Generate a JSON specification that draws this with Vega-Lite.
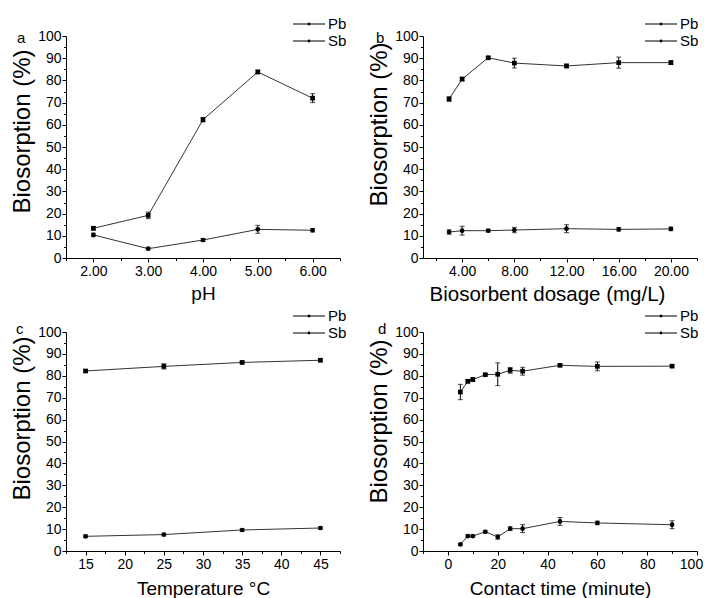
{
  "$schema": "https://vega.github.io/schema/vega-lite/v6.json",
  "background": "white",
  "padding": {"left": 10, "top": 15, "right": 0, "bottom": 0},
  "datasets": {
    "a": [
      {"series": "Pb", "x": 2, "v": 13.4, "err": 0.8},
      {"series": "Pb", "x": 3, "v": 19.2, "err": 1.5},
      {"series": "Pb", "x": 4, "v": 62.3, "err": 1.0},
      {"series": "Pb", "x": 5, "v": 83.8, "err": 0.8},
      {"series": "Pb", "x": 6, "v": 72.0, "err": 2.0},
      {"series": "Sb", "x": 2, "v": 10.4, "err": 0.8},
      {"series": "Sb", "x": 3, "v": 4.2, "err": 0.5},
      {"series": "Sb", "x": 4, "v": 8.1, "err": 0.7},
      {"series": "Sb", "x": 5, "v": 12.9, "err": 1.8},
      {"series": "Sb", "x": 6, "v": 12.5, "err": 0.8}
    ],
    "b": [
      {"series": "Pb", "x": 3, "v": 71.6, "err": 1.0},
      {"series": "Pb", "x": 4, "v": 80.6, "err": 0.8},
      {"series": "Pb", "x": 6, "v": 90.2, "err": 0.6},
      {"series": "Pb", "x": 8, "v": 87.8, "err": 2.2},
      {"series": "Pb", "x": 12, "v": 86.5, "err": 0.8},
      {"series": "Pb", "x": 16, "v": 88.0, "err": 2.5},
      {"series": "Pb", "x": 20, "v": 88.0, "err": 0.8},
      {"series": "Sb", "x": 3, "v": 11.7, "err": 1.0},
      {"series": "Sb", "x": 4, "v": 12.3, "err": 2.0},
      {"series": "Sb", "x": 6, "v": 12.3, "err": 0.6},
      {"series": "Sb", "x": 8, "v": 12.6, "err": 1.2},
      {"series": "Sb", "x": 12, "v": 13.2, "err": 1.8},
      {"series": "Sb", "x": 16, "v": 12.9, "err": 0.8},
      {"series": "Sb", "x": 20, "v": 13.1, "err": 0.8}
    ],
    "c": [
      {"series": "Pb", "x": 15, "v": 82.2, "err": 0.6},
      {"series": "Pb", "x": 25, "v": 84.3, "err": 1.2},
      {"series": "Pb", "x": 35, "v": 86.1, "err": 0.6},
      {"series": "Pb", "x": 45, "v": 87.1, "err": 0.6},
      {"series": "Sb", "x": 15, "v": 6.7, "err": 0.6},
      {"series": "Sb", "x": 25, "v": 7.5, "err": 0.6},
      {"series": "Sb", "x": 35, "v": 9.6, "err": 0.6},
      {"series": "Sb", "x": 45, "v": 10.5, "err": 0.6}
    ],
    "d": [
      {"series": "Pb", "x": 5, "v": 72.6, "err": 3.5},
      {"series": "Pb", "x": 8, "v": 77.5, "err": 0.8},
      {"series": "Pb", "x": 10, "v": 78.3, "err": 0.8},
      {"series": "Pb", "x": 15, "v": 80.5, "err": 0.5},
      {"series": "Pb", "x": 20, "v": 80.7, "err": 5.2},
      {"series": "Pb", "x": 25, "v": 82.5, "err": 1.3},
      {"series": "Pb", "x": 30, "v": 82.1, "err": 1.8},
      {"series": "Pb", "x": 45, "v": 84.8, "err": 0.6},
      {"series": "Pb", "x": 60, "v": 84.3, "err": 2.0},
      {"series": "Pb", "x": 90, "v": 84.4, "err": 0.6},
      {"series": "Sb", "x": 5, "v": 3.0, "err": 0.4},
      {"series": "Sb", "x": 8, "v": 6.8, "err": 0.5},
      {"series": "Sb", "x": 10, "v": 6.8, "err": 0.5},
      {"series": "Sb", "x": 15, "v": 8.8, "err": 0.6},
      {"series": "Sb", "x": 20, "v": 6.4, "err": 1.0},
      {"series": "Sb", "x": 25, "v": 10.2, "err": 0.8},
      {"series": "Sb", "x": 30, "v": 10.2, "err": 1.8},
      {"series": "Sb", "x": 45, "v": 13.5, "err": 1.8},
      {"series": "Sb", "x": 60, "v": 12.8, "err": 0.8},
      {"series": "Sb", "x": 90, "v": 12.0, "err": 1.8}
    ]
  },
  "spacing": 2,
  "vconcat": [
    {
      "spacing": 83,
      "bounds": "flush",
      "hconcat": [
        {
          "width": 274, "height": 222,
          "data": {"name": "a"},
          "title": {"text": "a", "anchor": "start", "frame": "group", "orient": "top", "offset": 0, "baseline": "middle", "dx": -49, "dy": 38, "fontSize": 15, "fontWeight": "normal", "font": "Liberation Sans", "color": "black"},
          "encoding": {
            "x": {"field": "x", "type": "quantitative", "title": "pH", "scale": {"domain": [1.5, 6.5], "nice": false, "zero": false},
              "axis": {"labelOverlap": false, "values": [1.5, 2, 2.5, 3, 3.5, 4, 4.5, 5, 5.5, 6, 6.5], "labelExpr": "datum.value % 1 === 0 ? format(datum.value, '.2f') : ''", "tickSize": {"condition": {"test": "datum.value % 1 === 0", "value": 4}, "value": 2.5}}},
            "y": {"field": "v", "type": "quantitative", "title": "Biosorption (%)", "scale": {"domain": [0, 100], "nice": false},
              "axis": {"titleY": 95, "labelOverlap": false, "values": [0, 5, 10, 15, 20, 25, 30, 35, 40, 45, 50, 55, 60, 65, 70, 75, 80, 85, 90, 95, 100], "labelExpr": "datum.value % 10 === 0 ? format(datum.value, 'd') : ''", "tickSize": {"condition": {"test": "datum.value % 10 === 0", "value": 4}, "value": 2.5}}}
          },
          "layer": [
            {"mark": {"type": "line", "color": "#333", "strokeWidth": 1}, "encoding": {"detail": {"field": "series"}}},
            {"mark": {"type": "errorbar", "ticks": {"size": 5, "color": "black"}, "color": "black"}, "encoding": {"yError": {"field": "err"}}},
            {"mark": {"type": "point", "filled": true, "opacity": 1, "color": "black", "size": 22},
              "encoding": {"shape": {"field": "series", "type": "nominal", "scale": {"domain": ["Pb", "Sb"], "range": ["square", "circle"]}, "legend": null}}},
            {"mark": {"type": "point", "filled": true, "opacity": 0, "color": "black", "strokeWidth": 0, "size": 324},
              "encoding": {"shape": {"field": "series", "type": "nominal", "scale": {"domain": ["Pb", "Sb"], "range": ["M-2.56,-0.045H1V0.045H-2.56ZM-0.92,-0.14H-0.64V0.14H-0.92Z", "M-2.56,-0.045H1V0.045H-2.56ZM-0.62,0A0.16,0.16,0,1,1,-0.94,0A0.16,0.16,0,1,1,-0.62,0Z"]},
                "legend": {"orient": "none", "legendX": 241, "legendY": -21}}}}
          ],
          "resolve": {"scale": {"shape": "independent"}, "legend": {"shape": "independent"}}
        },
        {
          "width": 274, "height": 222,
          "data": {"name": "b"},
          "title": {"text": "b", "anchor": "start", "frame": "group", "orient": "top", "offset": 0, "baseline": "middle", "dx": -47, "dy": 38, "fontSize": 15, "fontWeight": "normal", "font": "Liberation Sans", "color": "black"},
          "encoding": {
            "x": {"field": "x", "type": "quantitative", "title": "Biosorbent dosage (mg/L)", "scale": {"domain": [1, 22], "nice": false, "zero": false},
              "axis": {"titleFontSize": 20.5, "titleX": 124, "labelOverlap": false, "values": [2, 4, 6, 8, 10, 12, 14, 16, 18, 20, 22], "labelExpr": "datum.value % 4 === 0 ? format(datum.value, '.2f') : ''", "tickSize": {"condition": {"test": "datum.value % 4 === 0", "value": 4}, "value": 2.5}}},
            "y": {"field": "v", "type": "quantitative", "title": "Biosorption (%)", "scale": {"domain": [0, 100], "nice": false},
              "axis": {"titleY": 88, "labelOverlap": false, "values": [0, 5, 10, 15, 20, 25, 30, 35, 40, 45, 50, 55, 60, 65, 70, 75, 80, 85, 90, 95, 100], "labelExpr": "datum.value % 10 === 0 ? format(datum.value, 'd') : ''", "tickSize": {"condition": {"test": "datum.value % 10 === 0", "value": 4}, "value": 2.5}}}
          },
          "layer": [
            {"mark": {"type": "line", "color": "#333", "strokeWidth": 1}, "encoding": {"detail": {"field": "series"}}},
            {"mark": {"type": "errorbar", "ticks": {"size": 5, "color": "black"}, "color": "black"}, "encoding": {"yError": {"field": "err"}}},
            {"mark": {"type": "point", "filled": true, "opacity": 1, "color": "black", "size": 22},
              "encoding": {"shape": {"field": "series", "type": "nominal", "scale": {"domain": ["Pb", "Sb"], "range": ["square", "circle"]}, "legend": null}}},
            {"mark": {"type": "point", "filled": true, "opacity": 0, "color": "black", "strokeWidth": 0, "size": 324},
              "encoding": {"shape": {"field": "series", "type": "nominal", "scale": {"domain": ["Pb", "Sb"], "range": ["M-2.56,-0.045H1V0.045H-2.56ZM-0.92,-0.14H-0.64V0.14H-0.92Z", "M-2.56,-0.045H1V0.045H-2.56ZM-0.62,0A0.16,0.16,0,1,1,-0.94,0A0.16,0.16,0,1,1,-0.62,0Z"]},
                "legend": {"orient": "none", "legendX": 236, "legendY": -21}}}}
          ],
          "resolve": {"scale": {"shape": "independent"}, "legend": {"shape": "independent"}}
        }
      ]
    },
    {
      "spacing": 83,
      "bounds": "flush",
      "hconcat": [
        {
          "width": 274, "height": 219,
          "data": {"name": "c"},
          "title": {"text": "c", "anchor": "start", "frame": "group", "orient": "top", "offset": 0, "baseline": "middle", "dx": -50, "dy": 37, "fontSize": 15, "fontWeight": "normal", "font": "Liberation Sans", "color": "black"},
          "encoding": {
            "x": {"field": "x", "type": "quantitative", "title": "Temperature °C", "scale": {"domain": [12.5, 47.5], "nice": false, "zero": false},
              "axis": {"titlePadding": 8, "labelOverlap": false, "values": [12.5, 15, 17.5, 20, 22.5, 25, 27.5, 30, 32.5, 35, 37.5, 40, 42.5, 45, 47.5], "labelExpr": "datum.value % 5 === 0 ? format(datum.value, 'd') : ''", "tickSize": {"condition": {"test": "datum.value % 5 === 0", "value": 4}, "value": 2.5}}},
            "y": {"field": "v", "type": "quantitative", "title": "Biosorption (%)", "scale": {"domain": [0, 100], "nice": false},
              "axis": {"titleY": 86, "labelOverlap": false, "values": [0, 5, 10, 15, 20, 25, 30, 35, 40, 45, 50, 55, 60, 65, 70, 75, 80, 85, 90, 95, 100], "labelExpr": "datum.value % 10 === 0 ? format(datum.value, 'd') : ''", "tickSize": {"condition": {"test": "datum.value % 10 === 0", "value": 4}, "value": 2.5}}}
          },
          "layer": [
            {"mark": {"type": "line", "color": "#333", "strokeWidth": 1}, "encoding": {"detail": {"field": "series"}}},
            {"mark": {"type": "errorbar", "ticks": {"size": 5, "color": "black"}, "color": "black"}, "encoding": {"yError": {"field": "err"}}},
            {"mark": {"type": "point", "filled": true, "opacity": 1, "color": "black", "size": 22},
              "encoding": {"shape": {"field": "series", "type": "nominal", "scale": {"domain": ["Pb", "Sb"], "range": ["square", "circle"]}, "legend": null}}},
            {"mark": {"type": "point", "filled": true, "opacity": 0, "color": "black", "strokeWidth": 0, "size": 324},
              "encoding": {"shape": {"field": "series", "type": "nominal", "scale": {"domain": ["Pb", "Sb"], "range": ["M-2.56,-0.045H1V0.045H-2.56ZM-0.92,-0.14H-0.64V0.14H-0.92Z", "M-2.56,-0.045H1V0.045H-2.56ZM-0.62,0A0.16,0.16,0,1,1,-0.94,0A0.16,0.16,0,1,1,-0.62,0Z"]},
                "legend": {"orient": "none", "legendX": 241, "legendY": -25}}}}
          ],
          "resolve": {"scale": {"shape": "independent"}, "legend": {"shape": "independent"}}
        },
        {
          "width": 274, "height": 219,
          "data": {"name": "d"},
          "title": {"text": "d", "anchor": "start", "frame": "group", "orient": "top", "offset": 0, "baseline": "middle", "dx": -45, "dy": 37, "fontSize": 15, "fontWeight": "normal", "font": "Liberation Sans", "color": "black"},
          "encoding": {
            "x": {"field": "x", "type": "quantitative", "title": "Contact time (minute)", "scale": {"domain": [-10, 100], "nice": false, "zero": false},
              "axis": {"titlePadding": 8, "labelOverlap": false, "values": [-10, 0, 10, 20, 30, 40, 50, 60, 70, 80, 90, 100], "labelExpr": "datum.value % 20 === 0 ? format(datum.value, 'd') : ''", "labelOffset": {"condition": {"test": "datum.value === 100", "value": -6}, "value": 0}, "tickSize": {"condition": {"test": "datum.value % 20 === 0", "value": 4}, "value": 2.5}}},
            "y": {"field": "v", "type": "quantitative", "title": "Biosorption (%)", "scale": {"domain": [0, 100], "nice": false},
              "axis": {"titleY": 89, "labelOverlap": false, "values": [0, 5, 10, 15, 20, 25, 30, 35, 40, 45, 50, 55, 60, 65, 70, 75, 80, 85, 90, 95, 100], "labelExpr": "datum.value % 10 === 0 ? format(datum.value, 'd') : ''", "tickSize": {"condition": {"test": "datum.value % 10 === 0", "value": 4}, "value": 2.5}}}
          },
          "layer": [
            {"mark": {"type": "line", "color": "#333", "strokeWidth": 1}, "encoding": {"detail": {"field": "series"}}},
            {"mark": {"type": "errorbar", "ticks": {"size": 5, "color": "black"}, "color": "black"}, "encoding": {"yError": {"field": "err"}}},
            {"mark": {"type": "point", "filled": true, "opacity": 1, "color": "black", "size": 22},
              "encoding": {"shape": {"field": "series", "type": "nominal", "scale": {"domain": ["Pb", "Sb"], "range": ["square", "circle"]}, "legend": null}}},
            {"mark": {"type": "point", "filled": true, "opacity": 0, "color": "black", "strokeWidth": 0, "size": 324},
              "encoding": {"shape": {"field": "series", "type": "nominal", "scale": {"domain": ["Pb", "Sb"], "range": ["M-2.56,-0.045H1V0.045H-2.56ZM-0.92,-0.14H-0.64V0.14H-0.92Z", "M-2.56,-0.045H1V0.045H-2.56ZM-0.62,0A0.16,0.16,0,1,1,-0.94,0A0.16,0.16,0,1,1,-0.62,0Z"]},
                "legend": {"orient": "none", "legendX": 236, "legendY": -25}}}}
          ],
          "resolve": {"scale": {"shape": "independent"}, "legend": {"shape": "independent"}}
        }
      ]
    }
  ],
  "config": {
    "view": {"stroke": null},
    "font": "Liberation Sans",
    "axis": {
      "grid": false, "domainColor": "black", "tickColor": "black", "labelColor": "black", "titleColor": "black",
      "labelFont": "Liberation Sans", "titleFont": "Liberation Sans", "titleFontWeight": "normal",
      "labelFlush": false, "labelOverlap": false, "domainWidth": 1, "tickWidth": 1, "labelFontSize": 14, "labelPadding": 2
    },
    "axisX": {"titleFontSize": 19, "titlePadding": 6},
    "axisY": {"titleFontSize": 24, "titlePadding": 3, "labelPadding": 1},
    "legend": {
      "title": null, "labelFontSize": 15, "labelFont": "Liberation Sans", "labelColor": "black",
      "symbolOpacity": 1, "symbolSize": 324, "rowPadding": 0, "labelOffset": 3,
      "symbolStrokeWidth": 0, "symbolFillColor": "black", "padding": 0
    }
  }
}
